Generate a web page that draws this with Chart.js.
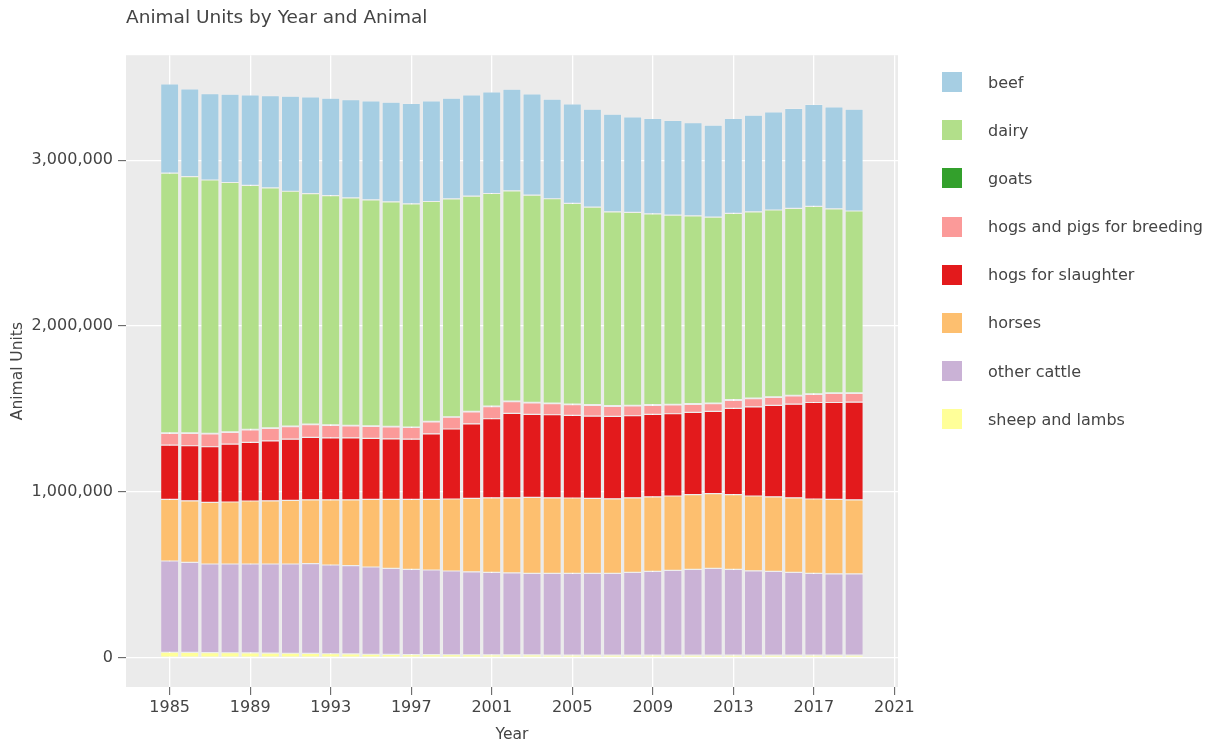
<!DOCTYPE html>
<html>
<head>
<meta charset="utf-8">
<title>Animal Units by Year and Animal</title>
<script src="https://cdn.jsdelivr.net/npm/chart.js@4.4.1/dist/chart.umd.min.js"></script>
<style>
  body { margin: 0; background: #fff; }
  #wrap { position: relative; width: 1214px; height: 744px; }
  #legend { position: absolute; left: 942px; top: 72px; font: 16px 'DejaVu Sans', sans-serif; color: #444; }
  .item { display: flex; align-items: center; height: 20px; margin-bottom: 28.2px; }
  .swatch { width: 20px; height: 20px; margin-right: 26px; }
</style>
</head>
<body>
<div id="wrap">
  <canvas id="chart"></canvas>
  <div id="legend"></div>
</div>
<script>
// years on the x axis and the tick labels shown
const years = [1985, 1986, 1987, 1988, 1989, 1990, 1991, 1992, 1993, 1994,
  1995, 1996, 1997, 1998, 1999, 2000, 2001, 2002, 2003, 2004,
  2005, 2006, 2007, 2008, 2009, 2010, 2011, 2012, 2013, 2014,
  2015, 2016, 2017, 2018, 2019];
const xTicks = [1985, 1989, 1993, 1997, 2001, 2005, 2009, 2013, 2017, 2021];
const yTicks = [0, 1000000, 2000000, 3000000];

// series, bottom of the stack first
const sheepAndLambs = [33000, 32000, 31000, 30000, 29000, 28000, 27000, 26000, 24000, 23000,
  21000, 20000, 19000, 19000, 18000, 18000, 17000, 17000, 17000, 16000,
  16000, 16000, 16000, 16000, 15000, 15000, 15000, 15000, 15000, 15000,
  15000, 15000, 15000, 15000, 15000];
const otherCattle = [550000, 543000, 534000, 535000, 536000, 537000, 538000, 541000, 535000, 532000,
  526000, 519000, 514000, 510000, 505000, 500000, 498000, 494000, 492000, 493000,
  493000, 493000, 493000, 499000, 506000, 512000, 518000, 524000, 518000, 509000,
  506000, 500000, 494000, 491000, 490000];
const horses = [372000, 371000, 372000, 374000, 380000, 381000, 384000, 385000, 393000, 397000,
  408000, 416000, 422000, 426000, 434000, 443000, 449000, 453000, 458000, 455000,
  454000, 452000, 449000, 449000, 449000, 448000, 450000, 450000, 450000, 451000,
  449000, 449000, 448000, 449000, 447000];
const hogsForSlaughter = [327000, 332000, 335000, 349000, 353000, 362000, 369000, 377000, 374000, 374000,
  367000, 365000, 363000, 395000, 422000, 449000, 477000, 509000, 500000, 501000,
  498000, 496000, 497000, 495000, 497000, 496000, 496000, 496000, 520000, 538000,
  551000, 565000, 582000, 584000, 589000];
const hogsForBreeding = [71000, 75000, 78000, 71000, 76000, 75000, 76000, 77000, 75000, 72000,
  73000, 72000, 70000, 72000, 71000, 72000, 73000, 71000, 70000, 67000,
  65000, 65000, 61000, 59000, 55000, 53000, 49000, 47000, 49000, 49000,
  49000, 50000, 49000, 54000, 53000];
const goats = [2400, 2400, 2500, 2500, 2500, 2600, 2600, 2600, 2600, 2600,
  2700, 2700, 2700, 2800, 2800, 2900, 3000, 3100, 3200, 3300,
  3400, 3500, 3600, 3600, 3700, 3700, 3700, 3700, 3600, 3600,
  3600, 3700, 3700, 3700, 3700];
const dairy = [1567000, 1546000, 1528000, 1504000, 1472000, 1447000, 1416000, 1390000, 1383000, 1372000,
  1363000, 1354000, 1346000, 1326000, 1314000, 1298000, 1282000, 1268000, 1249000, 1232000,
  1210000, 1192000, 1169000, 1164000, 1151000, 1141000, 1133000, 1121000, 1124000, 1123000,
  1126000, 1127000, 1130000, 1110000, 1096000];
const beef = [537000, 528000, 521000, 532000, 545000, 557000, 573000, 583000, 587000, 593000,
  596000, 601000, 605000, 606000, 607000, 611000, 613000, 613000, 611000, 601000,
  600000, 590000, 589000, 576000, 575000, 571000, 561000, 555000, 572000, 583000,
  592000, 603000, 615000, 615000, 614000];

Chart.defaults.font.family = "'DejaVu Sans', sans-serif";
Chart.defaults.color = '#444';

// grey plot panel like the original
const plotBackground = {
  id: 'plotBackground',
  beforeDraw(chart) {
    const { ctx, chartArea: a } = chart;
    ctx.save();
    ctx.fillStyle = '#ebebeb';
    ctx.fillRect(a.left, a.top, a.right - a.left, a.bottom - a.top);
    ctx.restore();
  }
};

function series(label, data, color) {
  return {
    label: label,
    data: data,
    backgroundColor: color,
    borderColor: 'rgba(255, 255, 255, 0.3)',
    borderWidth: 0.6,
    borderSkipped: false,
    barPercentage: 0.9,
    categoryPercentage: 1
  };
}

const chart = new Chart(document.getElementById('chart'), {
  type: 'bar',
  data: {
    labels: years,
    datasets: [
      series('sheep and lambs', sheepAndLambs, '#ffff99'),
      series('other cattle', otherCattle, '#cab2d6'),
      series('horses', horses, '#fdbf6f'),
      series('hogs for slaughter', hogsForSlaughter, '#e31a1c'),
      series('hogs and pigs for breeding', hogsForBreeding, '#fb9a99'),
      series('goats', goats, '#33a02c'),
      series('dairy', dairy, '#b2df8a'),
      series('beef', beef, '#a6cee3')
    ]
  },
  options: {
    responsive: true,
    maintainAspectRatio: false,
    animation: false,
    layout: { padding: { left: 0, right: 316, top: 0, bottom: 0 } },
    plugins: {
      legend: { display: false },
      tooltip: { enabled: false },
      title: {
        display: true,
        text: 'Animal Units by Year and Animal',
        align: 'start',
        fullSize: false,
        color: '#444',
        font: { size: 18.5, weight: 'normal' },
        padding: { top: 7, bottom: 26 }
      }
    },
    scales: {
      x: {
        type: 'linear',
        stacked: true,
        offset: false,
        min: 1982.83,
        max: 2021.18,
        afterBuildTicks: s => { s.ticks = xTicks.map(v => ({ value: v })); },
        afterFit: s => { s.height = 57; },
        grid: { offset: false, color: '#fff', lineWidth: 1.3, tickColor: '#555', tickLength: 8, tickWidth: 1 },
        border: { display: false },
        ticks: { autoSkip: false, maxRotation: 0, padding: 3, font: { size: 16 }, callback: v => String(v) },
        title: { display: true, text: 'Year', font: { size: 15.5 }, padding: 0 }
      },
      y: {
        stacked: true,
        min: -176600,
        max: 3633000,
        afterBuildTicks: s => { s.ticks = yTicks.map(v => ({ value: v })); },
        afterFit: s => { s.width = 126; },
        grid: { color: '#fff', lineWidth: 1.3, tickColor: '#555', tickLength: 8, tickWidth: 1 },
        border: { display: false },
        ticks: { padding: 5, font: { size: 16 }, callback: v => v.toLocaleString('en-US') },
        title: { display: true, text: 'Animal Units', font: { size: 15.5 }, padding: { top: 9 } }
      }
    }
  },
  plugins: [plotBackground]
});

// legend listed top of the stack first, as in the original
const legendEl = document.getElementById('legend');
chart.data.datasets.slice().reverse().forEach(ds => {
  const item = document.createElement('div');
  item.className = 'item';
  const sw = document.createElement('span');
  sw.className = 'swatch';
  sw.style.background = ds.backgroundColor;
  const txt = document.createElement('span');
  txt.textContent = ds.label;
  item.appendChild(sw);
  item.appendChild(txt);
  legendEl.appendChild(item);
});
</script>
</body>
</html>
